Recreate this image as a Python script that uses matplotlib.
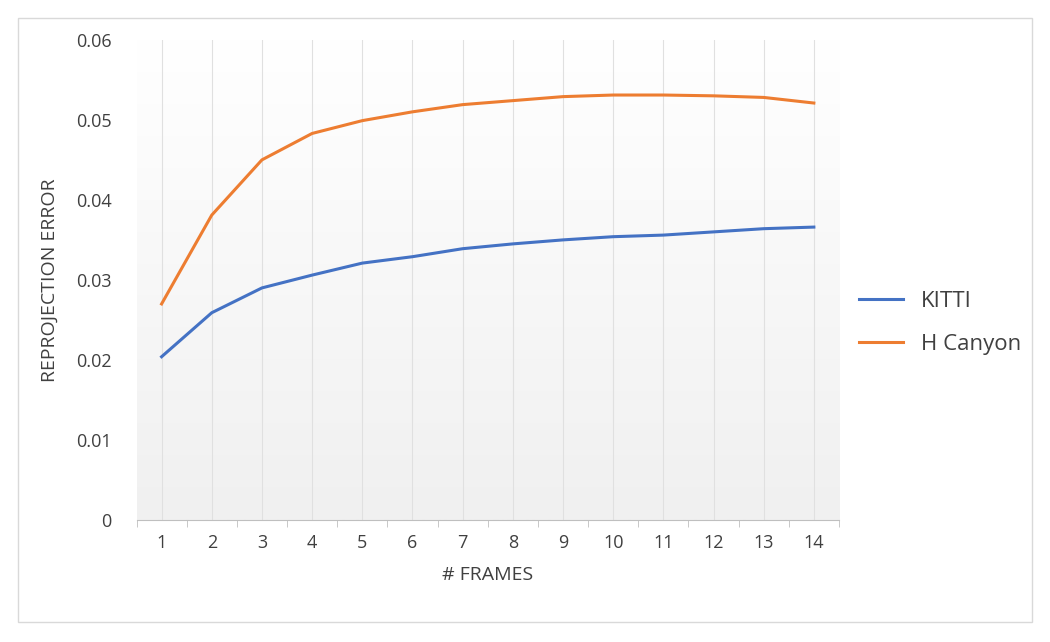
import matplotlib
matplotlib.use('Agg')
import matplotlib.pyplot as plt
import numpy as np
from matplotlib.patches import Rectangle

frames = list(range(1, 15))
kitti = [0.0204, 0.0259, 0.0290, 0.0306, 0.0321, 0.0329, 0.0339, 0.0345,
         0.0350, 0.0354, 0.0356, 0.0360, 0.0364, 0.0366]
h_canyon = [0.0270, 0.0381, 0.0450, 0.0483, 0.0499, 0.0510, 0.0519, 0.0524,
            0.0529, 0.0531, 0.0531, 0.0530, 0.0528, 0.0521]

plt.rcParams['font.family'] = ['Open Sans', 'DejaVu Sans']
fig = plt.figure(figsize=(10.5, 6.42), dpi=100)
fig.patches.append(Rectangle((18 / 1050, 20 / 642), 1014 / 1050, 604 / 642,
                             transform=fig.transFigure, fill=False,
                             edgecolor='#d9d9d9', linewidth=1))
ax = fig.add_axes([0.130, 0.190, 0.669, 0.748])

# soft gradient background: white at top, light grey at bottom
grad = np.linspace(0, 1, 256).reshape(-1, 1)
ax.imshow(grad, extent=[0.5, 14.5, 0, 0.06], aspect='auto', origin='upper',
          cmap=matplotlib.colors.LinearSegmentedColormap.from_list('g', ['#ffffff', '#f0f0f0']),
          zorder=0)

for x in frames:
    ax.axvline(x, color='#e0e0e0', linewidth=0.8, zorder=1)

ax.plot(frames, kitti, color='#4472c4', linewidth=2.2, label='KITTI', zorder=3)
ax.plot(frames, h_canyon, color='#ed7d31', linewidth=2.2, label='H Canyon', zorder=3)

ax.set_xlim(0.5, 14.5)
ax.set_ylim(0, 0.06)
ax.set_xticks(frames)
ax.set_xticks(np.arange(0.5, 15, 1), minor=True)
ax.set_yticks([0, 0.01, 0.02, 0.03, 0.04, 0.05, 0.06])
ax.set_yticklabels(['0', '0.01', '0.02', '0.03', '0.04', '0.05', '0.06'])
ax.tick_params(axis='x', which='major', length=0, labelsize=13, colors='#404040', pad=10)
ax.tick_params(axis='x', which='minor', length=5, color='#bfbfbf')
ax.tick_params(axis='y', length=0, labelsize=13, colors='#404040', pad=18)
for s in ['top', 'right', 'left']:
    ax.spines[s].set_visible(False)
ax.spines['bottom'].set_color('#bfbfbf')

ax.set_xlabel('# FRAMES', fontsize=14, color='#404040', labelpad=10)
ax.set_ylabel('REPROJECTION ERROR', fontsize=14, color='#404040', labelpad=12)

ax.legend(loc='center left', bbox_to_anchor=(1.0, 0.41), frameon=False,
          fontsize=16, labelcolor='#404040', handlelength=2.0, labelspacing=1.0)

fig.savefig('out.png', dpi=100)
